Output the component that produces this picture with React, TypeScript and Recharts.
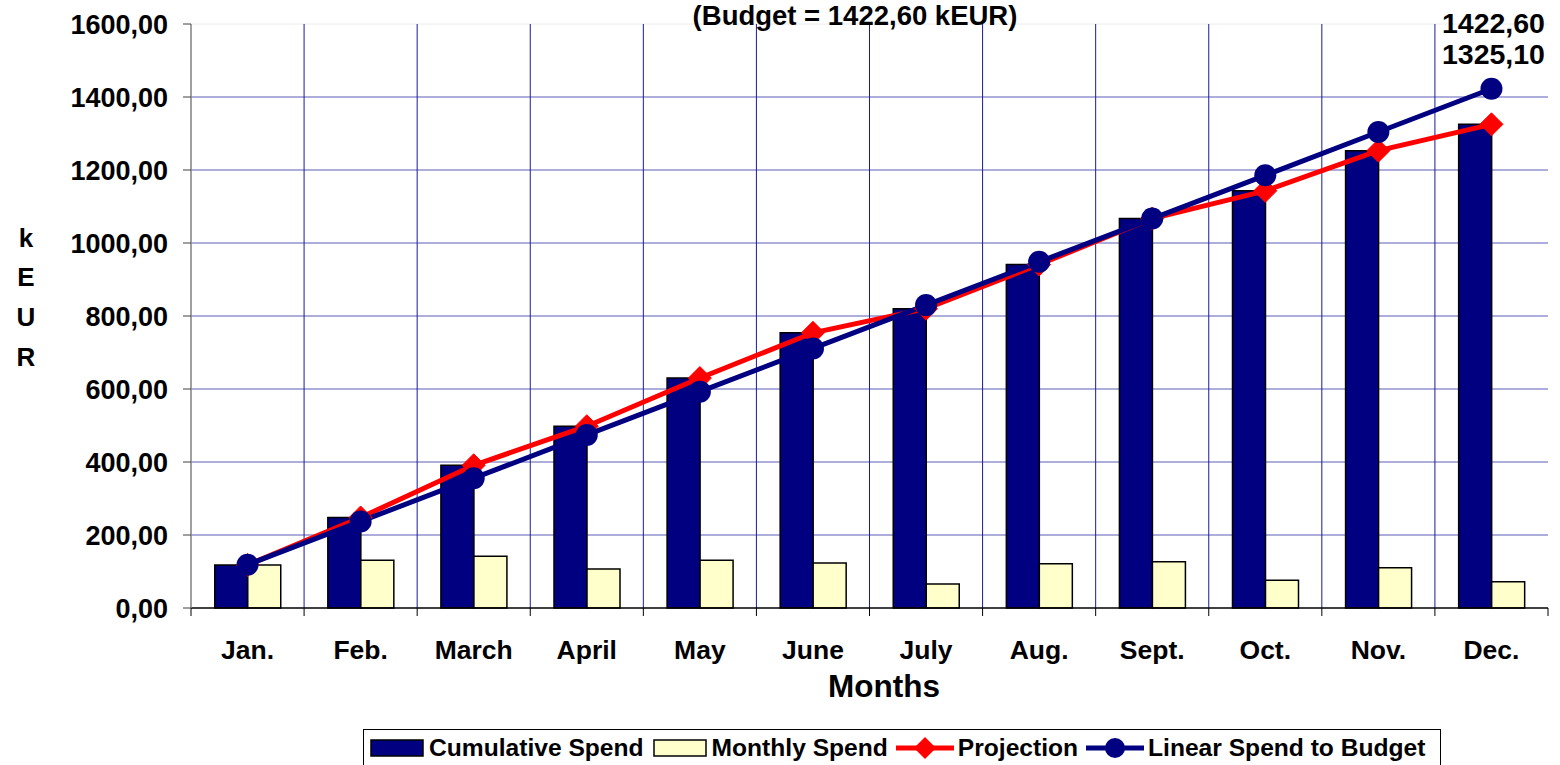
import React from 'react';
import { ComposedChart, Bar, Line, XAxis, YAxis, CartesianGrid } from 'recharts';

const months = ['Jan.', 'Feb.', 'March', 'April', 'May', 'June', 'July', 'Aug.', 'Sept.', 'Oct.', 'Nov.', 'Dec.'];
const cumulativeSpend = [118, 248, 391, 498, 630, 754, 820, 941, 1067, 1143, 1253, 1325.1];
const monthlySpend = [118, 131, 142, 107, 131, 123, 66, 121, 127, 76, 110, 72];
const projection = [118, 248, 391, 498, 630, 754, 820, 941, 1067, 1143, 1253, 1325.1];
const linearSpend = [118.55, 237.1, 355.65, 474.2, 592.75, 711.3, 829.85, 948.4, 1066.95, 1185.5, 1304.05, 1422.6];
const yTicks = [0, 200, 400, 600, 800, 1000, 1200, 1400, 1600];
const budget = 1422.6;

const data = months.map((m, i) => ({
  month: m,
  cumulative: cumulativeSpend[i],
  monthly: monthlySpend[i],
  projection: projection[i],
  linear: linearSpend[i],
}));

const FONT = '"Liberation Sans", Arial, Helvetica, sans-serif';
const NAVY = '#000080';
const RED = '#ff0000';
const CREAM = '#ffffcc';
const fmt = (v: number) => Number(v).toFixed(2).replace('.', ',');

const XTick = (props: any) => {
  const { x, y, payload, index } = props;
  const half = payload && payload.offset != null ? payload.offset : 0;
  const axisY = y - 32;
  return (
    <g>
      <line x1={x - half} x2={x - half} y1={axisY} y2={axisY + 8} stroke="#000" strokeWidth={1} />
      {index === months.length - 1 ? (
        <line x1={x + half} x2={x + half} y1={axisY} y2={axisY + 8} stroke="#000" strokeWidth={1} />
      ) : null}
      <text x={x} y={y} dy="0.7em" textAnchor="middle" fontFamily={FONT} fontWeight="bold" fontSize={26.5} fill="#000">
        {payload.value}
      </text>
    </g>
  );
};

const Diamond = (p: any) => {
  const { cx, cy, index } = p;
  if (cx == null || cy == null) return <g key={`d${index}`} />;
  const s = 11.5;
  return (
    <polygon
      key={`d${index}`}
      points={`${cx},${cy - s} ${cx + s},${cy} ${cx},${cy + s} ${cx - s},${cy}`}
      fill={RED}
      stroke={RED}
    />
  );
};

const lastLabel = (dy: number) => (p: any) => {
  if (p.index !== months.length - 1) return null;
  const x = p.x != null ? p.x : p.viewBox ? p.viewBox.x : 0;
  const y = p.y != null ? p.y : p.viewBox ? p.viewBox.y : 0;
  return (
    <text x={x + 2} y={y + dy} textAnchor="middle" fontFamily={FONT} fontWeight="bold" fontSize={28.5} fill="#000">
      {fmt(p.value)}
    </text>
  );
};

const YLabel = () => (
  <text fontFamily={FONT} fontWeight="bold" fontSize={26} fill="#000" textAnchor="middle">
    <tspan x={26} y={247}>k</tspan>
    <tspan x={26} y={286}>E</tspan>
    <tspan x={26} y={326}>U</tspan>
    <tspan x={26} y={366}>R</tspan>
  </text>
);

const XLabel = () => (
  <text x={884} y={697} textAnchor="middle" fontFamily={FONT} fontWeight="bold" fontSize={31.5} fill="#000">
    Months
  </text>
);

const LegendRect = ({ fill }: { fill: string }) => (
  <svg width={54} height={18} style={{ display: 'block' }}>
    <rect x={1} y={1} width={52} height={16} fill={fill} stroke="#000" strokeWidth={1.5} />
  </svg>
);

const LegendLine = ({ color, marker }: { color: string; marker: 'diamond' | 'circle' }) => (
  <svg width={58} height={24} style={{ display: 'block' }}>
    <line x1={0} x2={58} y1={12} y2={12} stroke={color} strokeWidth={5} />
    {marker === 'diamond' ? (
      <polygon points="29,1 40,12 29,23 18,12" fill={color} />
    ) : (
      <circle cx={29} cy={12} r={10} fill={color} />
    )}
  </svg>
);

const legendText: React.CSSProperties = {
  fontFamily: FONT,
  fontWeight: 'bold',
  fontSize: 24.6,
  color: '#000',
  whiteSpace: 'nowrap',
  lineHeight: '26px',
};

export default function App() {
  return (
    <div style={{ position: 'absolute', left: 0, top: 0, width: 1560, height: 765, overflow: 'hidden', background: '#fff' }}>
      <ComposedChart
        width={1560}
        height={765}
        data={data}
        margin={{ top: 24, right: 12, bottom: 97, left: 0 }}
        barGap={0}
        barCategoryGap="21%"
      >
        <CartesianGrid
          vertical={false}
          stroke="#5c5cb4"
          horizontalCoordinatesGenerator={(a: any) => {
            const o = a.offset;
            return [1, 2, 3, 4, 5, 6, 7].map((i) => o.top + (o.height * i) / 8);
          }}
        />
        <CartesianGrid
          vertical={false}
          stroke="#ececec"
          horizontalCoordinatesGenerator={(a: any) => [a.offset.top]}
        />
        <CartesianGrid
          horizontal={false}
          stroke="#1a1aa0"
          verticalCoordinatesGenerator={(a: any) => {
            const o = a.offset;
            return [1, 2, 3, 4, 5, 6, 7, 8, 9, 10, 11].map((i) => o.left + (o.width * i) / 12);
          }}
        />
        <XAxis
          dataKey="month"
          height={60}
          interval={0}
          tickLine={false}
          tickSize={8}
          tickMargin={24}
          axisLine={{ stroke: '#000', strokeWidth: 1.5 }}
          tick={<XTick />}
          label={<XLabel />}
        />
        <YAxis
          width={191}
          domain={[0, 1600]}
          ticks={yTicks}
          interval={0}
          tickSize={8}
          tickMargin={15}
          tickFormatter={fmt}
          axisLine={{ stroke: '#808080', strokeWidth: 1.5 }}
          tickLine={{ stroke: '#404040' }}
          tick={{ fontFamily: FONT, fontWeight: 'bold', fontSize: 27, fill: '#000' }}
          label={<YLabel />}
        />
        <Bar dataKey="cumulative" name="Cumulative Spend" fill={NAVY} stroke="#000" strokeWidth={1.5} isAnimationActive={false} />
        <Bar dataKey="monthly" name="Monthly Spend" fill={CREAM} stroke="#000" strokeWidth={1.5} isAnimationActive={false} />
        <Line
          dataKey="projection"
          name="Projection"
          stroke={RED}
          strokeWidth={5}
          dot={<Diamond />}
          activeDot={false}
          isAnimationActive={false}
          label={lastLabel(-60)}
        />
        <Line
          dataKey="linear"
          name="Linear Spend to Budget"
          stroke={NAVY}
          strokeWidth={5}
          dot={{ r: 11, fill: NAVY, stroke: NAVY, strokeWidth: 0 }}
          activeDot={false}
          isAnimationActive={false}
          label={lastLabel(-56)}
        />
      </ComposedChart>

      <svg width={1560} height={40} style={{ position: 'absolute', left: 0, top: 0, pointerEvents: 'none' }}>
        <text x={855} y={25} textAnchor="middle" fontFamily={FONT} fontWeight="bold" fontSize={27.5} fill="#000">
          {`(Budget = ${fmt(budget)} kEUR)`}
        </text>
      </svg>

      <div
        style={{
          position: 'absolute',
          left: 363,
          top: 729,
          width: 1078,
          height: 40,
          border: '1px solid #000',
          boxSizing: 'border-box',
          display: 'flex',
          alignItems: 'center',
          paddingLeft: 6,
          paddingBottom: 2,
        }}
      >
        <LegendRect fill={NAVY} />
        <span style={{ ...legendText, marginLeft: 5, marginRight: 9 }}>Cumulative Spend</span>
        <LegendRect fill={CREAM} />
        <span style={{ ...legendText, marginLeft: 5, marginRight: 8 }}>Monthly Spend</span>
        <LegendLine color={RED} marker="diamond" />
        <span style={{ ...legendText, marginLeft: 4, marginRight: 8 }}>Projection</span>
        <LegendLine color={NAVY} marker="circle" />
        <span style={{ ...legendText, marginLeft: 4 }}>Linear Spend to Budget</span>
      </div>
    </div>
  );
}
